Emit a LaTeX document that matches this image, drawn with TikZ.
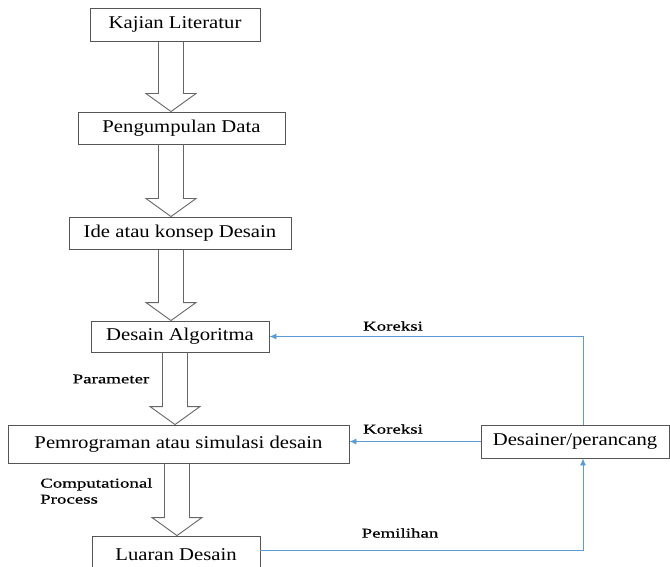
\documentclass[tikz,border=0pt]{standalone}
\usepackage{fontspec}
\setmainfont{Liberation Serif}[FakeStretch=1.15]
\newfontfamily\lblfont{Liberation Serif}[FakeStretch=1.4, FakeBold=0.5]
\usepackage{xcolor}
\usetikzlibrary{arrows,arrows.meta,calc}
\definecolor{boxgray}{HTML}{555555}
\definecolor{fbblue}{HTML}{5B9BD5}
\tikzset{
	stage/.style={
			draw=boxgray, line width=0.9pt, inner sep=0pt,
			font=\fontsize{18}{20}\selectfont
		},
	hollowarrow/.style={draw=boxgray!90, line width=0.9pt, line join=miter},
	feedback/.style={draw=fbblue, line width=0.9pt, -{Latex[length=7pt, width=6pt]}},
	note/.style={font=\lblfont\fontsize{13.5}{16}\selectfont, inner sep=0pt}
}
% hollow block arrow from the bottom of #2 to the top of #3, on the axis x=#1
\newcommand{\blockarrow}[3]{%
	\coordinate (ba-s) at (#1,0 |- #2.south);
	\coordinate (ba-t) at (#1,0 |- #3.north);
	\draw[hollowarrow] ([xshift=-12.5pt]ba-s) -- ([xshift=-12.5pt,yshift=18pt]ba-t)
		-- ([xshift=-25pt,yshift=18pt]ba-t) -- (ba-t) -- ([xshift=25pt,yshift=18pt]ba-t)
		-- ([xshift=12.5pt,yshift=18pt]ba-t) -- ([xshift=12.5pt]ba-s);
}

\begin{document}
\begin{tikzpicture}[x=1pt, y=-1pt]
		\useasboundingbox (0,0) rectangle (670,567);
		\clip (0,0) rectangle (670,567);
		% Draw the stages
		\node[stage, minimum width=170pt, minimum height=33pt] (lit) at (175,24.5) {Kajian Literatur};
		\node[stage, minimum width=207pt, minimum height=32pt] (data) at (181.5,128) {Pengumpulan Data};
		\node[stage, minimum width=222pt, minimum height=32pt] (ide) at (180,233) {Ide atau konsep Desain};
		\node[stage, minimum width=178pt, minimum height=31pt] (algo) at (180,336.5) {Desain Algoritma};
		\node[stage, minimum width=341pt, minimum height=38pt] (prog) at (178.5,444) {Pemrograman atau simulasi desain};
		\node[stage, minimum width=168pt, minimum height=38pt] (luaran) at (176,555) {Luaran Desain};
		\node[stage, minimum width=188pt, minimum height=33pt] (desainer) at (575,441.5) {Desainer/perancang};
		% Draw the block arrows
		\blockarrow{171}{lit}{data}
		\blockarrow{171}{data}{ide}
		\blockarrow{171}{ide}{algo}
		\blockarrow{175}{algo}{prog}
		\blockarrow{177}{prog}{luaran}
		% Draw the labels of the flow
		\node[note] (param) at (111,379) {Parameter};
		\node[note, anchor=west, align=left] (comp) at (40,491) {Computational\\Process};
		% Draw the feedback lines
		\draw[feedback] ([xshift=8pt]desainer.north) |- (algo.east);
		\draw[feedback] (desainer.west) -- (desainer.west -| prog.east);
		\draw[feedback] (luaran.east |- 0,550) -| ([xshift=8pt]desainer.south);
		\node[note] (kor1) at (393,326) {Koreksi};
		\node[note] (kor2) at (393,429) {Koreksi};
		\node[note] (pilih) at (400,533) {Pemilihan};
	\end{tikzpicture}
\end{document}
